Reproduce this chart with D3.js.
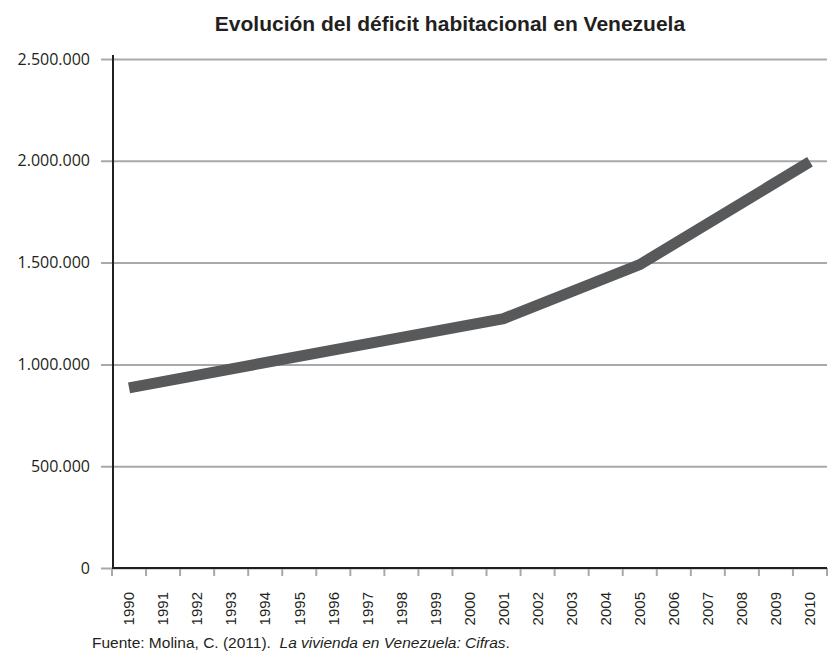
<!DOCTYPE html>
<html>
<head>
<meta charset="utf-8">
<script src="https://cdn.jsdelivr.net/npm/d3@7"></script>
<style>
  body { margin: 0; background: #fff; }
</style>
</head>
<body>
<div id="chart"></div>
<script>
// years on the axis
var years = ["1990","1991","1992","1993","1994","1995","1996","1997","1998","1999","2000",
             "2001","2002","2003","2004","2005","2006","2007","2008","2009","2010"];
// years with a value, and the values
var dataYears = ["1990", "2001", "2005", "2010"];
var deficit = [885000, 1225000, 1490000, 1995000];
var yTicks = [0, 500000, 1000000, 1500000, 2000000, 2500000];

var margin = {top: 59, right: 2, bottom: 84, left: 112},
    width = 829 - margin.left - margin.right,
    height = 652 - margin.top - margin.bottom;

var svg = d3.select("#chart")
  .append("svg")
  .attr("width", 829)
  .attr("height", 652);

var g = svg.append("g")
  .attr("transform", "translate(" + margin.left + "," + margin.top + ")");

var x = d3.scaleBand().domain(years).range([0, width]);
var y = d3.scaleLinear().domain([0, 2500000]).range([height, 0]);

var fmt = function(d) { return d3.format(",")(d).replace(/,/g, "."); };

// title
svg.append("text")
  .attr("x", 450)
  .attr("y", 31)
  .attr("text-anchor", "middle")
  .style("font-family", "'Liberation Sans', Arial, sans-serif")
  .style("font-weight", "bold")
  .style("font-size", "21px")
  .style("fill", "#231f20")
  .text("Evolución del déficit habitacional en Venezuela");

// gridlines + y labels
var yAxis = g.append("g")
  .call(d3.axisLeft(y).tickValues(yTicks).tickSize(-width).tickPadding(22).tickFormat(fmt));
yAxis.select(".domain").remove();
yAxis.selectAll(".tick line")
  .attr("x1", -11)
  .attr("stroke", "#a7a9ac")
  .attr("stroke-width", 2);
yAxis.selectAll(".tick text")
  .style("font-family", "'Open Sans', sans-serif")
  .style("font-size", "16px")
  .style("fill", "#231f20");

// x axis
var xAxis = g.append("g")
  .attr("transform", "translate(0," + height + ")")
  .call(d3.axisBottom(x).tickSize(0).tickPadding(0));
xAxis.select(".domain").remove();
xAxis.selectAll(".tick text")
  .attr("transform", "rotate(-90)")
  .attr("text-anchor", "end")
  .attr("x", -24)
  .attr("y", 0)
  .attr("dy", "0.35em")
  .style("font-family", "'Liberation Sans', Arial, sans-serif")
  .style("font-size", "15px")
  .style("fill", "#231f20");

// tick marks on band edges
var edges = years.map(function(d) { return x(d); }).concat([width]);
g.append("g").selectAll("line")
  .data(edges)
  .enter().append("line")
  .attr("x1", function(d) { return d; })
  .attr("x2", function(d) { return d; })
  .attr("y1", height)
  .attr("y2", height + 8)
  .attr("stroke", "#a7a9ac")
  .attr("stroke-width", 2);

// axis lines
g.append("line")
  .attr("x1", 0).attr("x2", width)
  .attr("y1", height).attr("y2", height)
  .attr("stroke", "#231f20").attr("stroke-width", 2);
g.append("line")
  .attr("x1", 1).attr("x2", 1)
  .attr("y1", -4).attr("y2", height)
  .attr("stroke", "#231f20").attr("stroke-width", 2);

// the series
var pts = dataYears.map(function(d, i) { return {year: d, value: deficit[i]}; });
var line = d3.line()
  .x(function(d) { return x(d.year) + x.bandwidth() / 2; })
  .y(function(d) { return y(d.value); });

g.append("path")
  .datum(pts)
  .attr("d", line)
  .attr("fill", "none")
  .attr("stroke", "#58595b")
  .attr("stroke-width", 11);

// source
var src = svg.append("text")
  .attr("x", 92)
  .attr("y", 648)
  .style("white-space", "pre")
  .style("font-family", "'Liberation Sans', Arial, sans-serif")
  .style("font-size", "15.5px")
  .style("fill", "#231f20");
src.append("tspan").text("Fuente: Molina, C. (2011).  ");
src.append("tspan").style("font-style", "italic").text("La vivienda en Venezuela: Cifras");
src.append("tspan").text(".");
</script>
</body>
</html>
